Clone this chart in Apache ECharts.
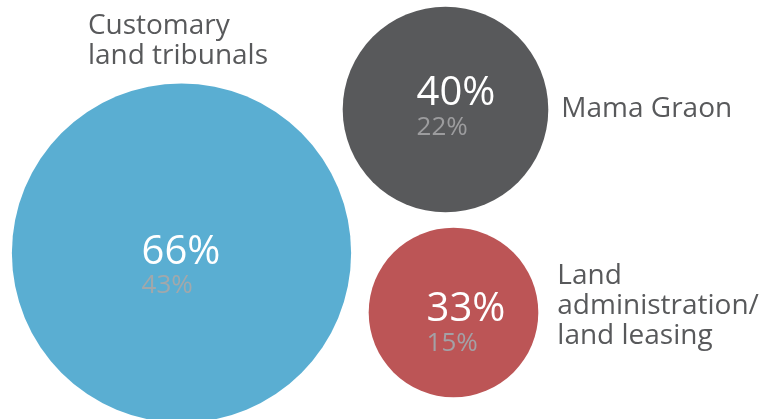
<!DOCTYPE html>
<html>
<head>
<meta charset="utf-8">
<script src="https://cdn.jsdelivr.net/npm/echarts@6/dist/echarts.min.js"></script>
<style>
  html, body { margin: 0; padding: 0; background: #fff; }
  #chart { width: 774px; height: 419px; }
</style>
</head>
<body>
<div id="chart"></div>
<script>
// data
const categories = ["Customary\nland tribunals", "Mama Graon", "Land\nadministration/\nland leasing"];
const mainShare = [66, 40, 33];
const subShare = [43, 22, 15];

// layout (axis units = pixels) and styling
const centres = [[181.5, 253], [445.5, 109.5], [453.5, 312.5]];
const valueOffsets = [[-0.5, 13], [10.5, -2], [12.5, 11]];
const colors = ["#5aaed2", "#58595b", "#bc5556"];
const subColors = ["#a2a8ab", "#9c9c9e", "#a3a1a6"];
const namePlacement = [
  { position: [76, -72], align: "left", verticalAlign: "top" },
  { position: "right", distance: 13 },
  { position: "right", distance: 19, offset: [0, -6] },
];
const diameterPerPoint = 5.14;

const chart = echarts.init(document.getElementById("chart"));

const bubbleData = categories.map((name, i) => ({
  name: name,
  value: [centres[i][0], centres[i][1], mainShare[i], subShare[i]],
  itemStyle: { color: colors[i], opacity: 1 },
  label: {
    offset: valueOffsets[i],
    rich: {
      a: { fontSize: 40, lineHeight: 40, color: "#fff", align: "left", fontFamily: "Open Sans" },
      b: { fontSize: 26, lineHeight: 27, color: subColors[i], align: "left", fontFamily: "Open Sans" },
    },
  },
}));

const nameData = categories.map((name, i) => ({
  name: name,
  value: [centres[i][0], centres[i][1], mainShare[i]],
  label: Object.assign({}, namePlacement[i]),
}));

const option = {
  animation: false,
  grid: { left: 0, right: 0, top: 0, bottom: 0 },
  xAxis: { type: "value", min: 0, max: 774, show: false },
  yAxis: { type: "value", min: 0, max: 419, inverse: true, show: false },
  series: [
    {
      type: "scatter",
      clip: false,
      symbolSize: (v) => v[2] * diameterPerPoint,
      data: bubbleData,
      label: {
        show: true,
        position: "inside",
        formatter: (p) => `{a|${p.value[2]}%}\n{b|${p.value[3]}%}`,
      },
      emphasis: { disabled: true },
    },
    {
      type: "scatter",
      clip: false,
      silent: true,
      symbolSize: (v) => v[2] * diameterPerPoint,
      itemStyle: { color: "rgba(0,0,0,0)", opacity: 1 },
      data: nameData,
      label: {
        show: true,
        formatter: (p) => p.name,
        color: "#58595b",
        fontFamily: "Open Sans",
        fontSize: 28,
        lineHeight: 30,
      },
      emphasis: { disabled: true },
    },
  ],
};

chart.setOption(option);
</script>
</body>
</html>
